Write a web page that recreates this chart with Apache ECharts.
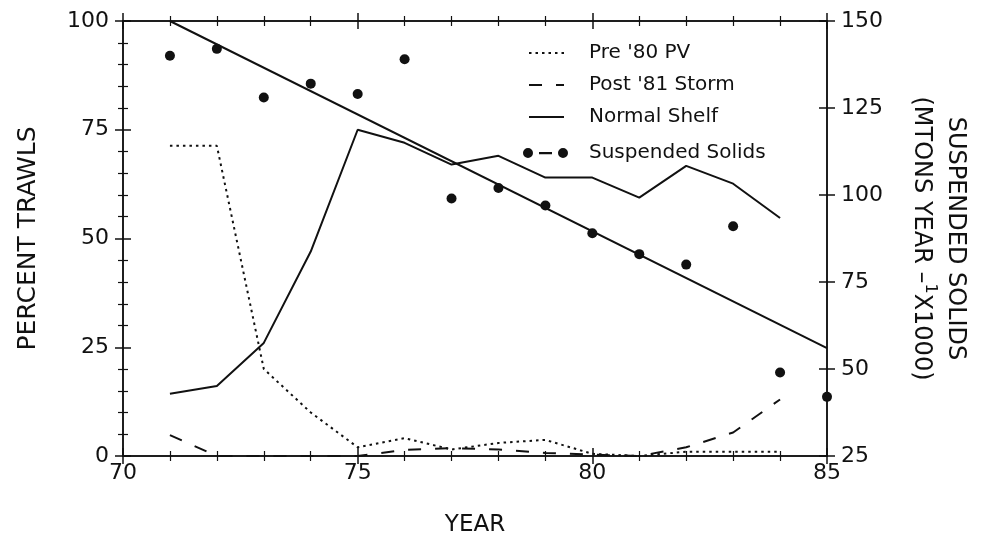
<!DOCTYPE html>
<html>
<head>
<meta charset="utf-8">
<script src="https://cdn.jsdelivr.net/npm/echarts@6/dist/echarts.min.js"></script>
<style>
  html, body { margin: 0; padding: 0; background: #fff; }
  #main { width: 985px; height: 546px; }
</style>
</head>
<body>
<div id="main"></div>
<script>
  // years on the x axis
  const years = [71, 72, 73, 74, 75, 76, 77, 78, 79, 80, 81, 82, 83, 84]
  // percent trawls (left axis)
  const pre80PV = [71.3, 71.3, 20, 10, 2, 4.1, 1.5, 3, 3.7, 0.5, 0, 1, 1, 1]
  const post81Storm = [4.8, 0, 0, 0, 0, 1.4, 1.8, 1.5, 0.7, 0.3, 0, 2, 5.4, 13]
  const normalShelf = [14.3, 16.1, 26, 47, 75, 72, 67, 69, 64, 64, 59.4, 66.7, 62.6, 54.7]
  // suspended solids (right axis, mtons/yr x1000)
  const solidYears = [71, 72, 73, 74, 75, 76, 77, 78, 79, 80, 81, 82, 83, 84, 85]
  const solids = [140, 142, 128, 132, 129, 139, 99, 102, 97, 89, 83, 80, 91, 49, 42]
  // fitted trend line for suspended solids
  const trendYears = [71, 85]
  const trendSolids = [150, 56]

  const pair = (xs, ys) => xs.map((x, i) => [x, ys[i]])

  const chart = echarts.init(document.getElementById('main'))
  const font = 'DejaVu Sans'
  const ink = '#111'
  const clear = 'rgba(0,0,0,0)'

  const xBase = {
    type: 'value', min: 70, max: 85, interval: 5,
    axisLine: {show: true, onZero: false, lineStyle: {color: ink, width: 1.5}},
    splitLine: {show: false},
    minorTick: {show: true, splitNumber: 5, length: 5, lineStyle: {color: ink, width: 1.2}},
    axisTick: {length: 8, lineStyle: {color: ink, width: 1.5}}
  }
  const yBase = {
    type: 'value',
    axisLine: {show: true, onZero: false, lineStyle: {color: ink, width: 1.5}},
    splitLine: {show: false},
    axisTick: {length: 8, lineStyle: {color: ink, width: 1.5}}
  }

  let option = {
    animation: false,
    textStyle: {fontFamily: font, color: ink},
    grid: {left: 123, right: 158, top: 21, bottom: 90, outerBoundsMode: 'none', containLabel: false},
    legend: [
      {
        orient: 'vertical', left: 523, top: 38,
        itemWidth: 35, itemHeight: 14, itemGap: 12,
        itemStyle: {color: clear, borderColor: clear, borderWidth: 0},
        textStyle: {fontFamily: font, fontSize: 20, color: ink, padding: [0, 0, 0, 20]},
        data: ["Pre '80 PV", "Post '81 Storm", 'Normal Shelf']
      },
      {
        orient: 'vertical', left: 518, top: 138,
        itemWidth: 45, itemHeight: 10,
        textStyle: {fontFamily: font, fontSize: 20, color: ink, padding: [0, 0, 0, 16]},
        data: [{
          name: 'Suspended Solids',
          icon: 'path://M0,5a5,5 0 1,0 10,0a5,5 0 1,0 -10,0Z M16,4h13v2.2h-13Z M35,5a5,5 0 1,0 10,0a5,5 0 1,0 -10,0Z'
        }]
      }
    ],
    xAxis: [
      Object.assign({}, xBase, {
        position: 'bottom',
        name: 'YEAR', nameLocation: 'middle', nameGap: 58,
        nameTextStyle: {fontFamily: font, fontSize: 23, color: ink},
        axisLabel: {fontFamily: font, fontSize: 22, color: ink, margin: 6}
      }),
      Object.assign({}, xBase, {position: 'bottom', axisLabel: {show: false}, axisTick: {inside: true, length: 8, lineStyle: {color: ink, width: 1.5}}}),
      Object.assign({}, xBase, {position: 'top', axisLabel: {show: false}}),
      Object.assign({}, xBase, {position: 'top', axisLabel: {show: false}, axisTick: {inside: true, length: 8, lineStyle: {color: ink, width: 1.5}}})
    ],
    yAxis: [
      Object.assign({}, yBase, {
        position: 'left', min: 0, max: 100, interval: 25,
        name: 'PERCENT TRAWLS', nameLocation: 'middle', nameGap: 82,
        nameTextStyle: {fontFamily: font, fontSize: 25, color: ink},
        minorTick: {show: true, splitNumber: 5, length: 5, lineStyle: {color: ink, width: 1.2}},
        axisLabel: {fontFamily: font, fontSize: 22, color: ink, margin: 14}
      }),
      Object.assign({}, yBase, {
        position: 'right', min: 25, max: 150, interval: 25,
        name: '{a|SUSPENDED SOLIDS}\n{a|(MTONS YEAR \u2013}{s|1}{a|X1000)}',
        nameLocation: 'middle', nameGap: 77, nameRotate: -90,
        nameTextStyle: {
          fontFamily: font, fontSize: 24, color: ink,
          rich: {
            a: {fontFamily: font, fontSize: 24, color: ink, lineHeight: 34},
            s: {fontFamily: font, fontSize: 16, color: ink, lineHeight: 16, verticalAlign: 'top'}
          }
        },
        axisLabel: {fontFamily: font, fontSize: 22, color: ink, margin: 14}
      }),
      Object.assign({}, yBase, {
        position: 'left', min: 0, max: 100, interval: 25, axisLabel: {show: false},
        minorTick: {show: true, splitNumber: 5, length: 5, lineStyle: {color: ink, width: 1.2}},
        axisTick: {inside: true, length: 8, lineStyle: {color: ink, width: 1.5}}
      }),
      Object.assign({}, yBase, {
        position: 'right', min: 25, max: 150, interval: 25, axisLabel: {show: false},
        axisTick: {inside: true, length: 8, lineStyle: {color: ink, width: 1.5}}
      })
    ],
    series: [
      {
        name: "Pre '80 PV", type: 'line', xAxisIndex: 0, yAxisIndex: 0,
        symbol: 'none', data: pair(years, pre80PV),
        lineStyle: {color: ink, width: 2, type: [2.5, 4]}, itemStyle: {color: ink}
      },
      {
        name: "Post '81 Storm", type: 'line', xAxisIndex: 0, yAxisIndex: 0,
        symbol: 'none', data: pair(years, post81Storm),
        lineStyle: {color: ink, width: 2, type: [13, 14]}, itemStyle: {color: ink}
      },
      {
        name: 'Normal Shelf', type: 'line', xAxisIndex: 0, yAxisIndex: 0,
        symbol: 'none', data: pair(years, normalShelf),
        lineStyle: {color: ink, width: 2}, itemStyle: {color: ink}
      },
      {
        name: 'Suspended Solids', type: 'scatter', xAxisIndex: 0, yAxisIndex: 1,
        symbol: 'circle', symbolSize: 10, data: pair(solidYears, solids),
        itemStyle: {color: '#111', opacity: 1}
      },
      {
        name: 'trend', type: 'line', xAxisIndex: 0, yAxisIndex: 1,
        symbol: 'none', data: pair(trendYears, trendSolids),
        lineStyle: {color: ink, width: 2}
      }
    ]
  }
  chart.setOption(option)
</script>
</body>
</html>
